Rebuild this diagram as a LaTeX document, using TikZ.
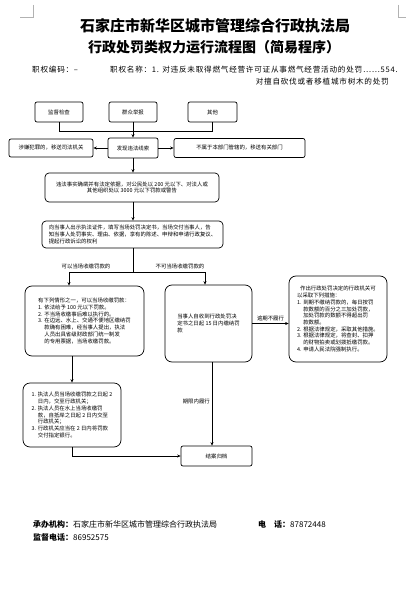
\documentclass[tikz,border=0pt]{standalone}
\usepackage{fontspec}
\setmainfont{Noto Sans CJK SC}
\usetikzlibrary{arrows.meta}
\newcommand\fzs{\fontsize{5.4}{6.7}\selectfont}
\newcommand\hdrfont{\fontsize{7.6}{9}\selectfont\addfontfeature{LetterSpace=10}}
\newcommand\ph[1]{\phantom{#1}}
\tikzset{
  box/.style={draw, line width=0.7pt, rounded corners=2pt, inner sep=1pt, font=\fzs, align=center},
  bigbox/.style={box, rounded corners=7pt, align=left},
  arr/.style={-{Stealth[length=3.5pt,width=3pt]}, line width=0.7pt},
  ln/.style={line width=0.7pt},
  lbl/.style={font=\fzs, inner sep=1pt},
  hdr/.style={font=\hdrfont, inner sep=0pt},
  cornermark/.style={draw=gray!60, line width=0.5pt}
}
\begin{document}
\begin{tikzpicture}[x=1pt,y=-1pt]
\useasboundingbox[fill=white] (0,0) rectangle (406,599);
% corner marks
\draw[cornermark] (33,5) -- (33,17) -- (20,17);
\draw[cornermark] (398,5) -- (398,17) -- (406,17);
% title
\node[font=\fontsize{15}{17}\selectfont\bfseries] (t1) at (215,26) {石家庄市新华区城市管理综合行政执法局};
\node[font=\fontsize{14}{17}\selectfont\bfseries] (t2) at (214,47) {行政处罚类权力运行流程图（简易程序）};
% header
\node[hdr, anchor=west] (code) at (32,70) {职权编码：–};
\node[hdr, anchor=west] (name) at (110,70) {职权名称：1. 对违反未取得燃气经营许可证从事燃气经营活动的处罚……554.};
\node[hdr, anchor=east] (name2) at (389,82) {对擅自砍伐或者移植城市树木的处罚};
% top row
\node[box, minimum width=48, minimum height=20] (jd) at (59,112) {监督检查};
\node[box, minimum width=48, minimum height=20] (qz) at (133,112) {群众举报};
\node[box, minimum width=49, minimum height=20] (qt) at (212.5,112) {其他};
\node[box, minimum width=50, minimum height=20] (fx) at (133,148) {发现违法线索};
\node[box, minimum width=84, minimum height=18] (sf) at (51,148) {涉嫌犯罪的，移送司法机关};
\node[box, minimum width=131, minimum height=19] (bs) at (239.5,148) {不属于本部门管辖的，移送有关部门};
\coordinate (bar) at (0,131);
\draw[ln] (jd.south) |- (bar -| qt.south) -- (qt.south);
\draw[arr] (qz.south) -- (fx.north);
\draw[arr] (fx.west) -- (sf.east);
\draw[arr] (fx.east) -- (bs.west);
% main
\node[box, rounded corners=4pt, minimum width=174, minimum height=29] (wf) at (132,187.5)
 {违法事实确凿并有法定依据，对公民处以 200 元以下、对法人或\\其他组织处以 3000 元以下罚款或警告};
\node[box, rounded corners=4pt, align=left, minimum width=181, minimum height=27] (dsr) at (132.5,234.5)
 {向当事人出示执法证件，填写当场处罚决定书，当场交付当事人，告\\知当事人处罚事实、理由、依据，享有的陈述、申辩和申请行政复议、\\提起行政诉讼的权利};
\draw[arr] (fx.south) -- (fx.south |- wf.north);
\draw[arr] (fx.south |- wf.south) -- (fx.south |- dsr.north);
% branch
\coordinate (br) at (133,272);
\coordinate (bl) at (69,272);
\coordinate (bR) at (205,272);
\draw[ln] (fx.south |- dsr.south) -- (br);
\draw[ln] (bl) -- (bR);
\node[lbl] (l1) at (86,266.5) {可以当场收缴罚款的};
\node[lbl] (l2) at (180,266.5) {不可当场收缴罚款的};
\node[bigbox, minimum width=119, minimum height=70] (lb) at (84.5,321)
 {有下列情形之一，可以当场收缴罚款：\\
  1. 依法给予 100 元以下罚款。\\
  2. 不当场收缴事后难以执行的。\\
  3. 在边远、水上、交通不便地区缴纳罚\\
  \ph{3. }款确有困难，经当事人提出，执法\\
  \ph{3. }人员出具省级财政部门统一制发\\
  \ph{3. }的专用票据，当场收缴罚款。};
\node[bigbox, minimum width=87, minimum height=77] (mb) at (208.5,323.5)
 {当事人自收到行政处罚决\\定书之日起 15 日内缴纳罚\\款};
\node[bigbox, minimum width=98, minimum height=86] (rb) at (338,319)
 {\ph{1}作出行政处罚决定的行政机关可\\
  以采取下列措施：\\
  1. 到期不缴纳罚款的，每日按罚\\
  \ph{1. }款数额的百分之三加处罚款，\\
  \ph{1. }加处罚款的数额不得超出罚\\
  \ph{1. }款数额。\\
  2. 根据法律规定，采取其他措施。\\
  3. 根据法律规定，将查封、扣押\\
  \ph{3. }的财物拍卖或划拨抵缴罚款。\\
  4. 申请人民法院强制执行。};
\draw[arr] (bl) -- (bl |- lb.north);
\draw[arr] (bR) -- (bR |- mb.north);
\draw[arr] (mb.east) -- (mb.east -| rb.west) node[lbl, midway, above=1pt] (l3) {逾期不履行};
% lower
\node[bigbox, minimum width=98, minimum height=64] (llb) at (72,415)
 {1. 执法人员当场收缴罚款之日起 2\\
  \ph{1. }日内，交至行政机关；\\
  2. 执法人员在水上当场收缴罚\\
  \ph{2. }款，自抵岸之日起 2 日内交至\\
  \ph{2. }行政机关；\\
  3. 行政机关应当在 2 日内将罚款\\
  \ph{3. }交付指定银行。};
\node[box, minimum width=71, minimum height=20] (ja) at (216.5,456) {结案归档};
\draw[arr] (llb.north |- lb.south) -- (llb.north);
\draw[arr] (llb.south) |- (ja.west);
\coordinate (mx) at (212,0);
\draw[arr] (mb.south -| mx) -- (ja.north -| mx);
\node[lbl, anchor=east] (l4) at (211,401) {期限内履行};
% footer
\node[anchor=west, inner sep=0pt, font=\fontsize{8}{9}\selectfont] (f1) at (33,524) {\textbf{承办机构：}石家庄市新华区城市管理综合行政执法局};
\node[anchor=west, inner sep=0pt, font=\fontsize{8}{9}\selectfont] (f2) at (258,524) {\textbf{电\hspace{8pt}话：}87872448};
\node[anchor=west, inner sep=0pt, font=\fontsize{8}{9}\selectfont] (f3) at (33,537) {\textbf{监督电话：}86952575};
\end{tikzpicture}
\end{document}
